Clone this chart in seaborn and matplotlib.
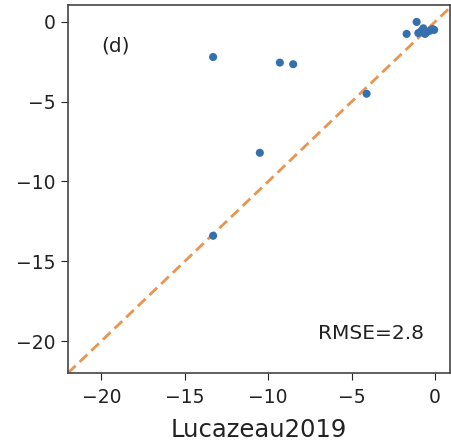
import matplotlib
matplotlib.use("Agg")
import matplotlib.pyplot as plt
import seaborn as sns
import numpy as np
import pandas as pd

sns.set_style("ticks")
plt.rcParams['font.family'] = ['DejaVu Sans']

lucazeau = [-13.3, -9.3, -8.5, -4.1, -10.5, -13.3, -1.7, -1.1, -1.0, -0.6,
            -0.7, -0.3, -0.05, -0.15, -0.8, -0.5]
model = [-2.2, -2.55, -2.65, -4.5, -8.2, -13.4, -0.75, 0.0, -0.7, -0.75,
         -0.4, -0.55, -0.5, -0.45, -0.55, -0.65]
panel_label = "(d)"
rmse_text = "RMSE=2.8"
xlabel = "Lucazeau2019"

df = pd.DataFrame({"x": lucazeau, "y": model})

fig = plt.figure(figsize=(4.51, 4.46), dpi=100)
ax = fig.add_axes([68/451, 1-373/446, (450-68)/451, (373-5)/446])

sns.scatterplot(data=df, x="x", y="y", ax=ax, color="#3470ad", s=34,
                edgecolor="none", zorder=3)
lims = [-22, 1.1]
ax.plot(lims, lims, linestyle="--", color="#ea9450", lw=2, dashes=(3.8, 2.0), zorder=2)

ax.set_xlim(-22, 0.9)
ax.set_ylim(-22, 1.06)
ax.set_xticks([-20, -15, -10, -5, 0])
ax.set_yticks([-20, -15, -10, -5, 0])
ax.tick_params(labelsize=13.5, colors="#222222", length=5)
ax.tick_params(axis="x", pad=6)
ax.tick_params(axis="y", pad=4)
for s in ax.spines.values():
    s.set_color("#444444")
    s.set_linewidth(1.2)
ax.set_xlabel(xlabel, fontsize=17.5, color="#222222", labelpad=8)
ax.set_ylabel("")
ax.text(-20, -1.5, panel_label, fontsize=14.5, va="center", ha="left", color="#222222")
ax.text(-7.0, -19.5, rmse_text, fontsize=14.5, va="center", ha="left", color="#222222")

fig.savefig("out.png", dpi=100)
